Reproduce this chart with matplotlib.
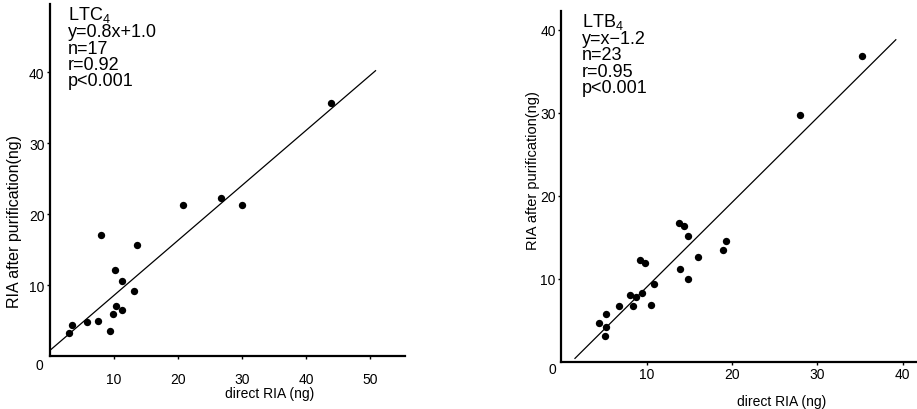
import matplotlib
matplotlib.use("Agg")
import matplotlib.pyplot as plt

plt.rcParams['font.family'] = ['Liberation Sans', 'DejaVu Sans']
plt.rcParams['mathtext.fontset'] = 'custom'
plt.rcParams['mathtext.rm'] = 'Liberation Sans'

# LTC4 panel data
ltc4_direct = [3.0, 3.5, 5.7, 7.5, 8.0, 9.4, 9.8, 10.2, 10.3, 11.2, 11.2, 13.1, 13.6, 20.7, 26.7, 30.0, 43.8]
ltc4_purified = [3.2, 4.3, 4.8, 4.9, 17.1, 3.5, 5.9, 12.1, 7.0, 6.5, 10.6, 9.2, 15.7, 21.3, 22.2, 21.3, 35.6]
ltc4_line_x = [0.0, 50.8]
ltc4_line_y = [0.8, 40.2]
ltc4_stats = ["LTC$_\\mathregular{4}$", "y=0.8x+1.0", "n=17", "r=0.92", "p<0.001"]

# LTB4 panel data
ltb4_direct = [4.45, 5.2, 5.23, 5.1, 6.8, 8.1, 8.36, 8.8, 9.4, 9.26, 9.84, 10.9, 10.5,
               13.8, 14.4, 14.8, 13.9, 14.8, 16.05, 18.9, 19.3, 28.0, 35.2]
ltb4_purified = [4.7, 5.7, 4.2, 3.1, 6.75, 8.05, 6.75, 7.75, 8.25, 12.2, 11.85, 9.35, 6.85,
                 16.7, 16.3, 15.1, 11.2, 10.0, 12.65, 13.5, 14.6, 29.7, 36.9]
ltb4_line_x = [1.6, 39.2]
ltb4_line_y = [0.4, 38.8]
ltb4_stats = ["LTB$_\\mathregular{4}$", "y=x\u22121.2", "n=23", "r=0.95", "p<0.001"]

xticks_left = [10, 20, 30, 40, 50]
yticks_left = [10, 20, 30, 40]
xticks_right = [10, 20, 30, 40]
yticks_right = [10, 20, 30, 40]

xlabel = "direct RIA (ng)"
ylabel = "RIA after purification(ng)"

fig = plt.figure(figsize=(9.17, 4.1), dpi=100)
W, H = 917, 410

def px_axes(x0, y0_top, w, h):
    return fig.add_axes([x0 / W, (H - y0_top) / H, w / W, h / H])

axL = px_axes(50, 357, 355, 352)
axR = px_axes(561.3, 362.7, 355, 351)

def style(ax, xlim, ylim, xt, yt, xpad):
    ax.set_xlim(*xlim)
    ax.set_ylim(*ylim)
    for s in ('top', 'right'):
        ax.spines[s].set_visible(False)
    for s in ('left', 'bottom'):
        ax.spines[s].set_linewidth(1.6)
    ax.set_xticks(xt)
    ax.set_yticks(yt)
    ax.tick_params(axis='both', direction='out', length=2.5, width=1.0, labelsize=10)
    ax.tick_params(axis='y', pad=1.5)
    ax.tick_params(axis='x', pad=xpad)

style(axL, (0, 55.4), (0, 49.6), xticks_left, yticks_left, 9)
style(axR, (0, 41.6), (0, 42.3), xticks_right, yticks_right, 1.5)

axL.scatter(ltc4_direct, ltc4_purified, s=28, color='black', zorder=3, linewidths=0)
axL.plot(ltc4_line_x, ltc4_line_y, color='black', linewidth=0.9)
axR.scatter(ltb4_direct, ltb4_purified, s=28, color='black', zorder=3, linewidths=0)
axR.plot(ltb4_line_x, ltb4_line_y, color='black', linewidth=0.9)

axL.text(2.8, 49.6, "\n".join(ltc4_stats), fontsize=13, va='top', ha='left', linespacing=0.95)
axR.text(2.4, 42.3, "\n".join(ltb4_stats), fontsize=13, va='top', ha='left', linespacing=0.95)

axL.set_xlabel(xlabel, fontsize=10)
axL.xaxis.set_label_coords(0.62, -0.085)
axL.set_ylabel(ylabel, fontsize=11.5)
axL.yaxis.set_label_coords(-0.079, 0.384)

axR.set_xlabel(xlabel, fontsize=10)
axR.xaxis.set_label_coords(0.622, -0.092)
axR.set_ylabel(ylabel, fontsize=10.5)
axR.yaxis.set_label_coords(-0.06, 0.546)

# origin labels
fig.text(39 / W, (H - 366) / H, "0", fontsize=10, ha='center', va='center')
fig.text(552 / W, (H - 370) / H, "0", fontsize=10, ha='center', va='center')

fig.savefig("out.png", dpi=100)
